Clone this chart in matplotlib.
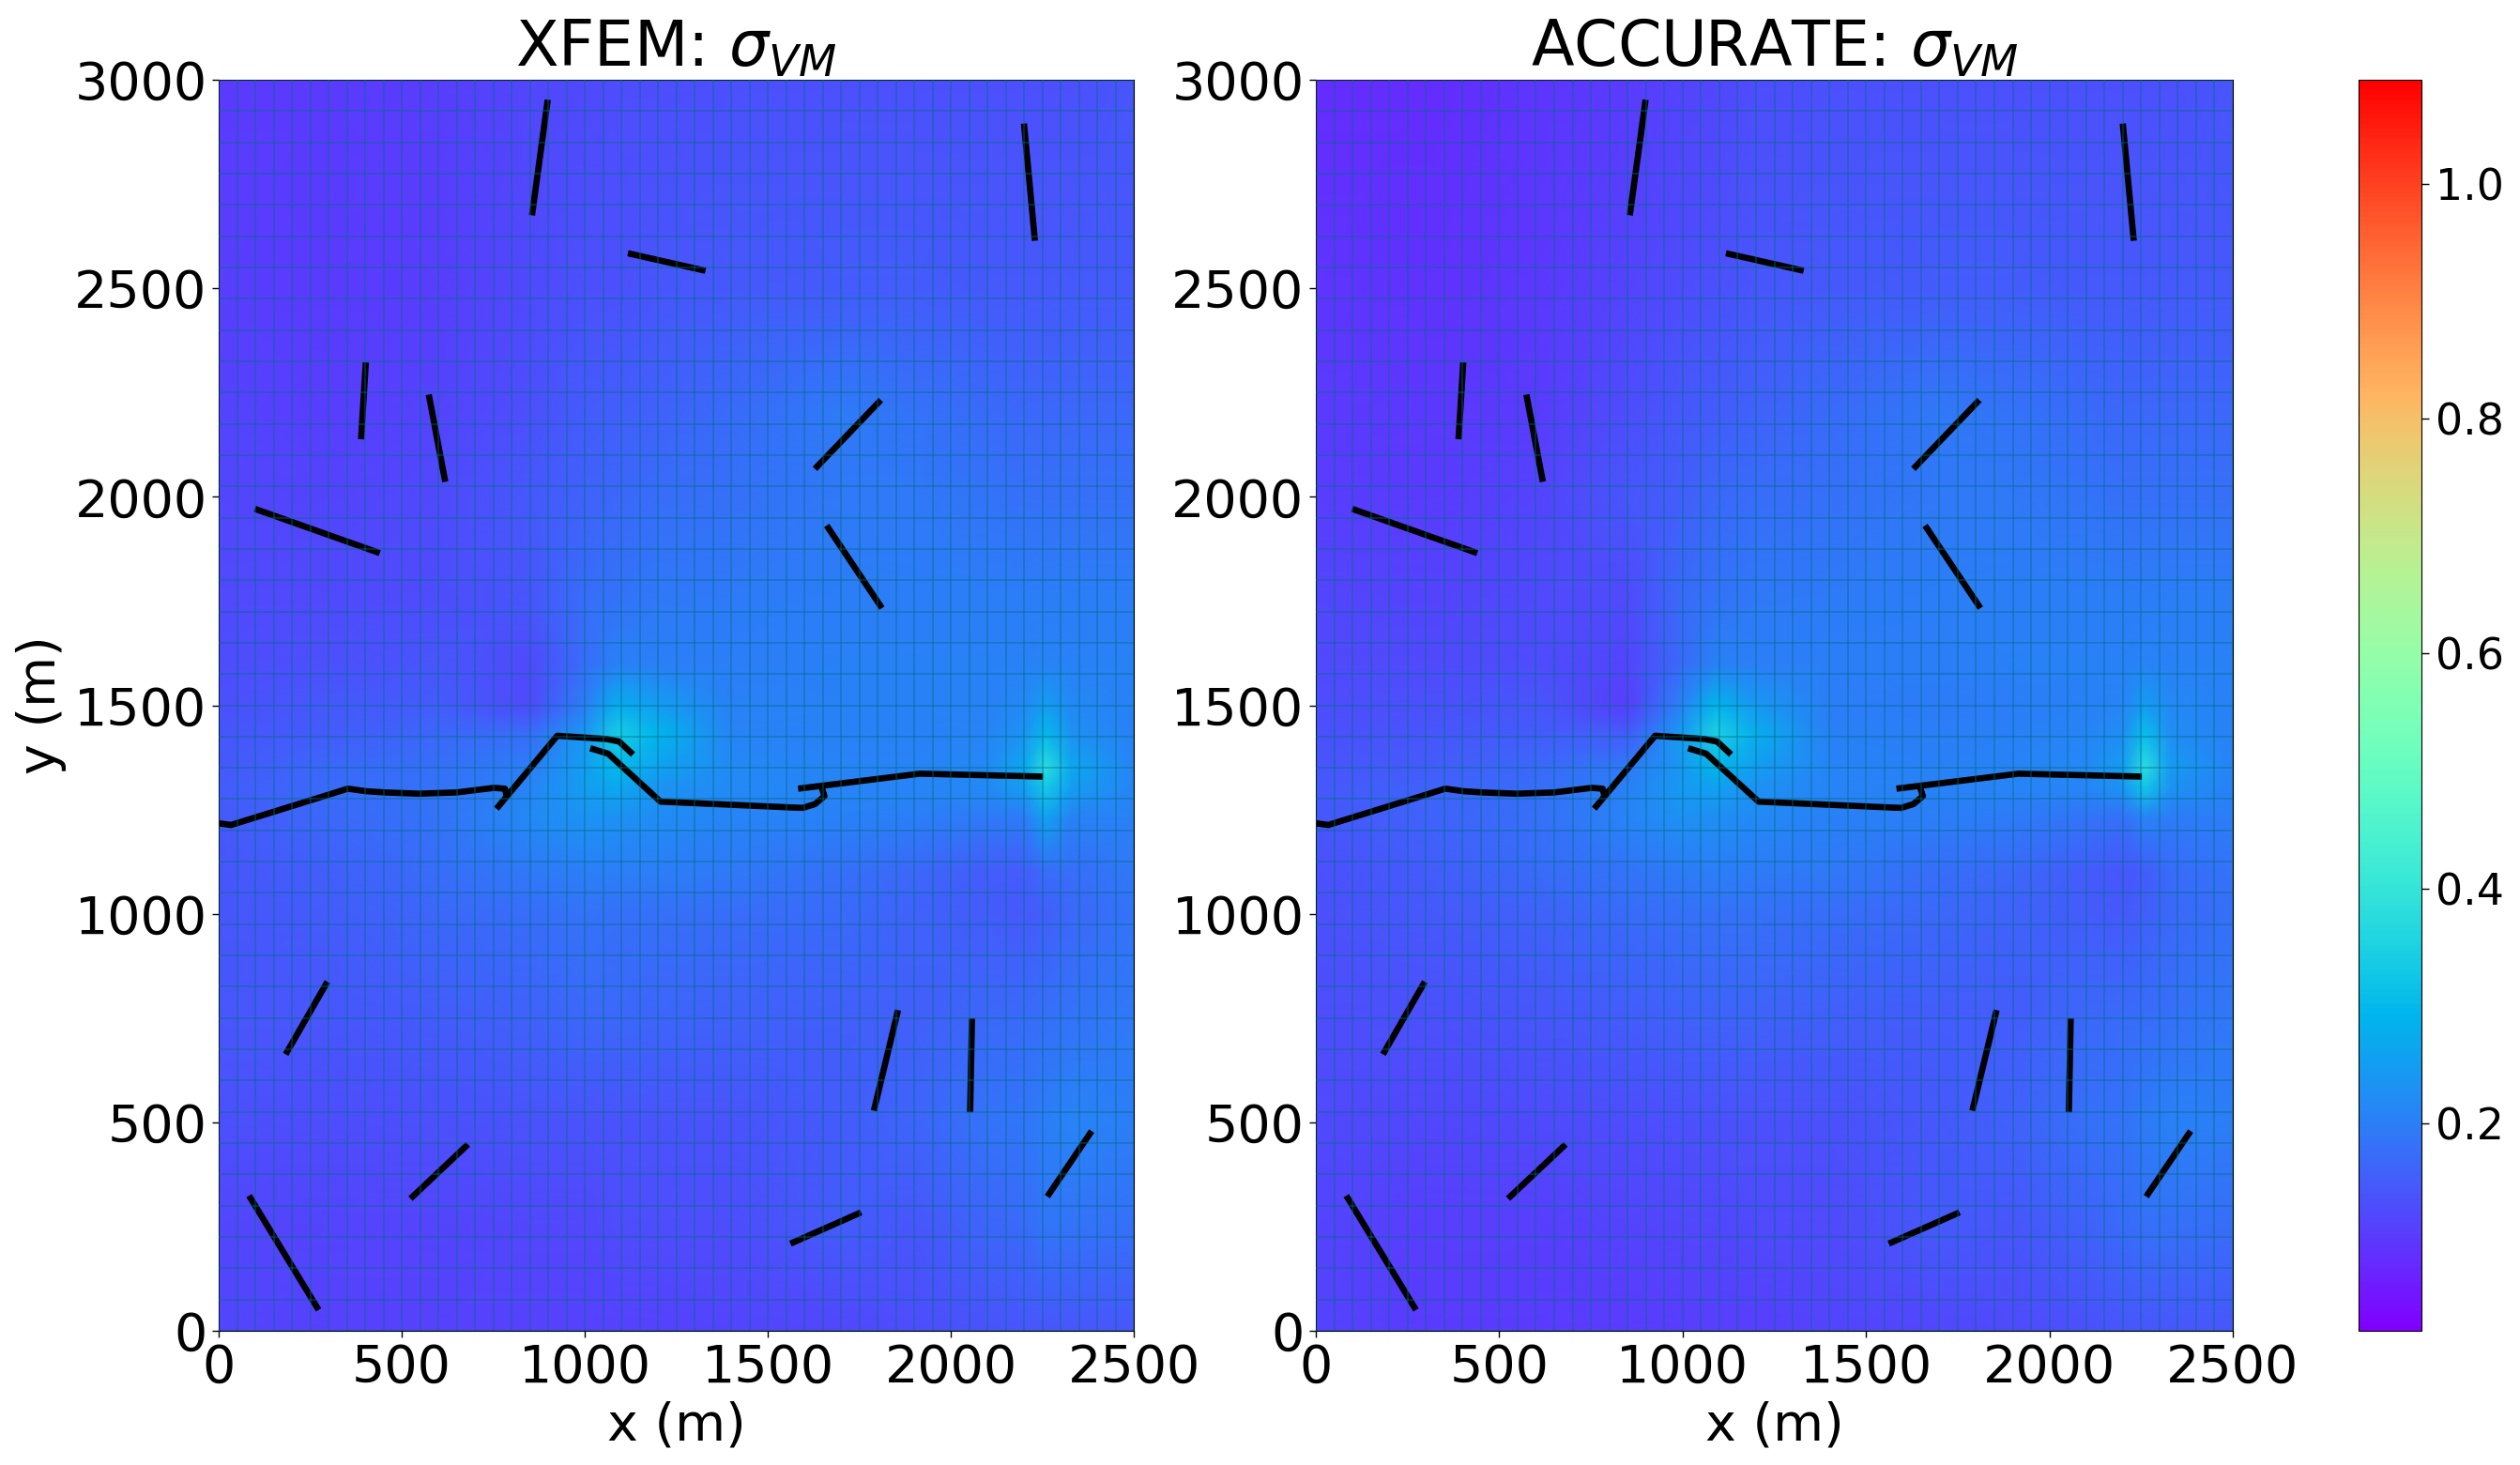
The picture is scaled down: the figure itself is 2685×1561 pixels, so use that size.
import numpy as np
import matplotlib
matplotlib.use("Agg")
import matplotlib.pyplot as plt
from matplotlib.colors import Normalize
from matplotlib.cm import ScalarMappable

W, H = 2685, 1561

# ---- field tables ----
field_x = [0, 300, 600, 850, 1000, 1090, 1200, 1400, 1700, 1900, 2100, 2200, 2260, 2330, 2500]
field_y = [3000, 2500, 2200, 2000, 1750, 1600, 1500, 1430, 1350, 1300, 1230, 1100, 1000, 750, 500, 250, 0]
xfem_vm = [
 [.105,.105,.11,.12,.125,.13,.13,.135,.135,.135,.135,.135,.135,.135,.14],
 [.11,.105,.11,.125,.135,.135,.14,.145,.15,.15,.145,.145,.145,.145,.145],
 [.115,.11,.115,.135,.15,.155,.16,.17,.195,.185,.17,.165,.165,.165,.165],
 [.12,.115,.125,.145,.16,.165,.175,.18,.19,.19,.185,.18,.18,.18,.18],
 [.125,.125,.13,.14,.175,.185,.19,.195,.2,.2,.2,.2,.2,.2,.2],
 [.13,.135,.14,.125,.175,.205,.2,.2,.205,.205,.205,.205,.21,.205,.205],
 [.135,.145,.15,.125,.2,.28,.25,.205,.205,.205,.205,.215,.25,.215,.205],
 [.14,.15,.165,.175,.24,.34,.29,.21,.205,.205,.21,.235,.3,.23,.205],
 [.145,.165,.18,.2,.25,.3,.26,.215,.21,.21,.215,.265,.38,.265,.21],
 [.15,.17,.185,.21,.25,.265,.235,.215,.21,.21,.215,.25,.33,.25,.21],
 [.145,.165,.185,.215,.235,.23,.22,.21,.205,.2,.19,.195,.26,.205,.205],
 [.14,.155,.175,.19,.2,.2,.2,.19,.18,.165,.15,.15,.175,.175,.19],
 [.14,.15,.165,.175,.185,.18,.18,.175,.17,.16,.15,.145,.155,.165,.185],
 [.14,.14,.148,.158,.168,.168,.163,.158,.153,.153,.168,.172,.178,.182,.19],
 [.132,.128,.132,.138,.138,.138,.138,.138,.148,.162,.182,.188,.198,.21,.2],
 [.122,.118,.118,.122,.122,.128,.128,.128,.152,.142,.162,.172,.188,.182,.178],
 [.12,.112,.112,.112,.112,.112,.112,.118,.122,.128,.138,.142,.142,.142,.142],
]
accurate_vm = [
 [.085,.085,.095,.105,.115,.12,.13,.135,.135,.135,.135,.135,.135,.135,.14],
 [.095,.09,.1,.115,.13,.135,.14,.145,.15,.15,.145,.145,.145,.145,.145],
 [.105,.1,.105,.13,.145,.15,.16,.17,.19,.185,.17,.165,.165,.165,.165],
 [.11,.105,.115,.14,.155,.165,.175,.18,.19,.19,.185,.18,.18,.18,.18],
 [.12,.115,.125,.125,.17,.185,.19,.195,.2,.2,.2,.2,.2,.2,.2],
 [.125,.125,.13,.115,.17,.205,.2,.2,.2,.205,.205,.205,.21,.205,.205],
 [.13,.135,.14,.11,.21,.29,.24,.2,.195,.2,.205,.21,.25,.215,.205],
 [.135,.14,.15,.15,.25,.35,.28,.205,.2,.205,.21,.225,.31,.225,.205],
 [.14,.15,.165,.19,.24,.29,.25,.21,.205,.21,.215,.25,.38,.245,.21],
 [.145,.16,.175,.205,.245,.255,.23,.21,.205,.21,.21,.235,.32,.23,.205],
 [.14,.16,.18,.21,.23,.225,.215,.205,.2,.195,.185,.18,.21,.195,.2],
 [.135,.15,.17,.185,.195,.2,.195,.19,.175,.165,.15,.14,.15,.17,.185],
 [.135,.145,.16,.17,.18,.18,.18,.175,.165,.16,.15,.145,.155,.165,.18],
 [.13,.135,.14,.15,.16,.16,.16,.155,.15,.15,.165,.17,.175,.18,.19],
 [.125,.12,.125,.13,.135,.135,.135,.135,.145,.16,.18,.185,.195,.205,.2],
 [.115,.11,.11,.115,.12,.12,.125,.125,.145,.14,.16,.17,.18,.18,.175],
 [.115,.105,.105,.105,.11,.11,.11,.115,.12,.125,.135,.14,.14,.14,.14],
]

# ---- fractures (x, y in metres) ----
cracks = [
 ([899, 856], [2952, 2675]),
 ([2200, 2230], [2895, 2614]),
 ([1118, 1330], [2584, 2542]),
 ([402, 389], [2322, 2138]),
 ([574, 619], [2245, 2036]),
 ([99, 440], [1971, 1865]),
 ([1809, 1629], [2232, 2067]),
 ([1661, 1812], [1931, 1733]),
 ([297, 183], [837, 663]),
 ([1856, 1790], [769, 528]),
 ([2058, 2053], [749, 524]),
 ([2385, 2264], [479, 322]),
 ([681, 524], [447, 317]),
 ([1755, 1562], [284, 209]),
 ([83, 273], [324, 50]),
 ([0, 34, 353, 402, 453, 547, 650, 752, 782, 786],
  [1217, 1213, 1300, 1294, 1291, 1288, 1291, 1302, 1300, 1285]),
 ([759, 925, 1060, 1094, 1132], [1252, 1427, 1419, 1413, 1382]),
 ([1015, 1064, 1207, 1563, 1596, 1629, 1655, 1648],
  [1397, 1384, 1269, 1255, 1254, 1263, 1282, 1302]),
 ([1583, 1916, 2252], [1300, 1336, 1329]),
]

titles = ["XFEM: $\\sigma_{VM}$", "ACCURATE: $\\sigma_{VM}$"]
fields = [xfem_vm, accurate_vm]
cbar_ticks = [0.2, 0.4, 0.6, 0.8, 1.0]
x_ticks = [0, 500, 1000, 1500, 2000, 2500]
y_ticks = [0, 500, 1000, 1500, 2000, 2500, 3000]

fig = plt.figure(figsize=(W / 100, H / 100), dpi=100)
norm = Normalize(0.023, 1.089)
cmap = "rainbow"


def box(l, t, r, b):
    return [l / W, 1 - b / H, (r - l) / W, (b - t) / H]


mesh_x = np.arange(0, 2501, 50)
mesh_y = np.arange(0, 3001, 75)
for i, (l, r) in enumerate([(233, 1208), (1402, 2379)]):
    ax = fig.add_axes(box(l, 85, r, 1418))
    ax.pcolormesh(field_x, field_y, np.array(fields[i]), cmap=cmap, norm=norm,
                  shading="gouraud", rasterized=True)
    for cx, cy in cracks:
        ax.plot(cx, cy, color="black", lw=4.8, solid_capstyle="butt", zorder=3)
    ax.vlines(mesh_x, 0, 3000, colors="#006a85", alpha=0.38, lw=1.4, zorder=4)
    ax.hlines(mesh_y, 0, 2500, colors="#006a85", alpha=0.38, lw=1.4, zorder=4)
    ax.set_xlim(0, 2500)
    ax.set_ylim(0, 3000)
    ax.set_xticks(x_ticks)
    ax.set_yticks(y_ticks)
    ax.tick_params(labelsize=40, length=5, width=1, pad=4)
    ax.set_xlabel("x (m)", fontsize=40, labelpad=6)
    if i == 0:
        ax.set_ylabel("y (m)", fontsize=40, labelpad=6)
    ax.set_title(titles[i], fontsize=48, pad=6)

cax = fig.add_axes(box(2513, 85, 2580, 1418))
sm = ScalarMappable(norm=norm, cmap=cmap)
cb = fig.colorbar(sm, cax=cax, ticks=cbar_ticks)
cb.ax.tick_params(labelsize=33, length=6, width=1, pad=5)

fig.savefig("out.png", dpi=100)
